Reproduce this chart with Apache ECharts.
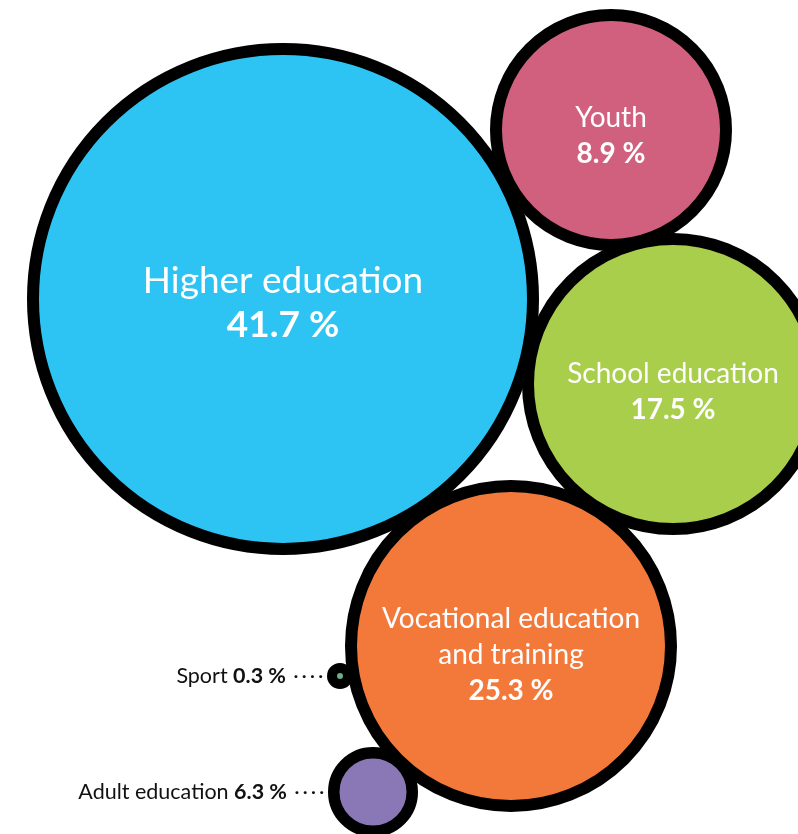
<!DOCTYPE html>
<html>
<head>
<meta charset="utf-8">
<script src="https://cdn.jsdelivr.net/npm/echarts@6/dist/echarts.min.js"></script>
<style>
html,body{margin:0;padding:0;background:#fff;}
#chart{width:798px;height:834px;}
</style>
</head>
<body>
<div id="chart"></div>
<script>
// ---- data ----
var categories = ['Higher education', 'Youth', 'School education', 'Vocational education\nand training', 'Sport', 'Adult education'];
var shares = [41.7, 8.9, 17.5, 25.3, 0.3, 6.3];
var colors = ['#2DC4F4', '#D0607E', '#A8CE4C', '#F3793B', '#6BAF88', '#8A77B6'];

// ---- layout (bubble centres in axis units, outer radius in px) ----
var layoutX = [283, 611, 673, 511, 340, 373];
var layoutY = [299, 130, 384, 646, 676, 792];
var outerR  = [256, 121, 151, 166, 13, 45];
var ringW   = [12, 12, 12, 12, 10, 11.5];
var labelOffsetY = [4, 6, 8, 9, 0, 0];
var outside = [false, false, false, false, true, true];

var FONT = 'Lato';

var seriesData = categories.map(function (c, i) {
  var item = {
    name: c,
    value: [layoutX[i], layoutY[i], shares[i]],
    symbolSize: 2 * (outerR[i] - ringW[i] / 2),
    itemStyle: { color: colors[i], borderColor: '#000', borderWidth: ringW[i], opacity: 1 }
  };
  var big = i === 0;
  var fs = big ? 37 : 28;
  if (!outside[i]) {
    item.label = {
      show: true,
      position: 'inside',
      offset: [0, labelOffsetY[i]],
      formatter: function (p) {
        var lines = p.name.split('\n').map(function (l) { return '{n|' + l + '}'; });
        return lines.join('\n') + '\n{b|' + p.value[2].toFixed(1) + ' %}';
      },
      rich: {
        n: { fontFamily: FONT, fontSize: fs, color: '#fff', lineHeight: big ? 44 : 36, fontWeight: 'normal' },
        b: { fontFamily: FONT, fontSize: fs, color: '#fff', lineHeight: big ? 44 : 36, fontWeight: 'bold' }
      }
    };
  } else {
    item.label = {
      show: true,
      position: 'left',
      distance: 4,
      formatter: function (p) {
        return '{n|' + p.name + ' }{b|' + p.value[2].toFixed(1) + ' %}{d|  · · · ·}';
      },
      rich: {
        n: { fontFamily: FONT, fontSize: 21.5, color: '#111', fontWeight: 'normal' },
        b: { fontFamily: FONT, fontSize: 21.5, color: '#111', fontWeight: 'bold' },
        d: { fontFamily: FONT, fontSize: 16, color: '#111', fontWeight: 'bold' }
      }
    };
  }
  return item;
});

var chart = echarts.init(document.getElementById('chart'), null, { renderer: 'canvas' });
chart.setOption({
  animation: false,
  backgroundColor: '#fff',
  grid: { left: 0, right: 0, top: 0, bottom: 0 },
  xAxis: { type: 'value', min: 0, max: 798, show: false },
  yAxis: { type: 'value', min: 0, max: 834, inverse: true, show: false },
  series: [{
    type: 'scatter',
    symbol: 'circle',
    data: seriesData,
    itemStyle: { opacity: 1 },
    emphasis: { disabled: true }
  }]
});
</script>
</body>
</html>
